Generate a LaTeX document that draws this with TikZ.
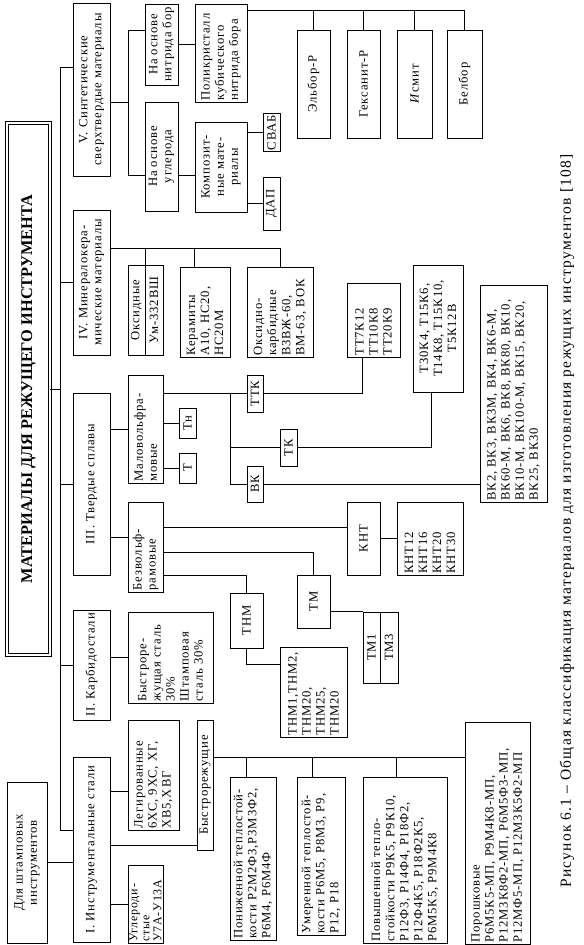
\documentclass[tikz,border=0pt]{standalone}
\usepackage{fontspec}
\setmainfont{Liberation Serif}
\newfontfamily\boxfont{Liberation Serif}[LetterSpace=7]
\newfontfamily\capfont{Liberation Serif}[LetterSpace=8]
\usetikzlibrary{calc}
\newcommand{\fsz}{\boxfont\fontsize{9}{10}\selectfont}
\newcommand{\ttlsz}{\fontsize{11.6}{14}\selectfont\bfseries}
\newcommand{\capsz}{\capfont\fontsize{11}{13}\selectfont}
\tikzset{
  box/.style={draw,rotate=90,inner sep=1pt,font=\fsz,align=center},
  lbox/.style={draw,rotate=90,inner ysep=1pt,inner xsep=1pt,font=\fsz,align=left},
  bw/.style={minimum width=#1*0.025cm},
  bh/.style={minimum height=#1*0.025cm},
  tw/.style={text width=#1*0.025cm-2pt}
}

\begin{document}
\begin{tikzpicture}[x=0.025cm,y=-0.025cm,line width=0.6pt]
\useasboundingbox (0,0) rectangle (584,945);
\node[box,bw=532,bh=43,double,double distance=1.2pt,font=\ttlsz] (title) at (28.5,389) {МАТЕРИАЛЫ ДЛЯ РЕЖУЩЕГО ИНСТРУМЕНТА};
\node[box,bw=161,bh=40] (stamp) at (27,862.5) {Для штамповых\\инструментов};
\node[box,bw=173,bh=37] (v) at (91.5,89.5) {V. Синтетические\\сверхтвердые материалы};
\node[box,bw=145,bh=37] (iv) at (91.5,282.5) {IV. Минералокера-\\мические материалы};
\node[box,bw=182,bh=37] (iii) at (91.5,484) {III. Твердые сплавы};
\node[box,bw=110,bh=37] (ii) at (91.5,665) {II. Карбидостали};
\node[box,bw=185,bh=37] (i) at (91.5,849.5) {I. Инструментальные стали};
\node[box,bw=81,bh=33] (nitr) at (161.5,44.5) {На основе\\нитрида бор};
\node[box,bw=109,bh=33] (carb) at (161.5,156.5) {На основе\\углерода};
\node[lbox,tw=98,bh=52] (polyk) at (221,53) {Поликристалл\\кубического\\нитрида бора};
\node[box,bw=90,bh=52] (komp) at (221,167) {Композит-\\ные мате-\\риалы};
\node[box,bw=35,bh=17] (svab) at (271.5,132.5) {СВАБ};
\node[box,bw=53,bh=17] (dap) at (271.5,203.5) {ДАП};
\node[box,bw=108,bh=33] (elbor) at (313.5,84) {Эльбор-Р};
\node[box,bw=108,bh=33] (geks) at (363.5,84) {Гексанит-Р};
\node[box,bw=108,bh=35] (ismit) at (414.5,84) {\textit{И}смит};
\node[box,bw=108,bh=35] (belbor) at (464.5,84) {Белбор};
\node[box,bw=90,bh=17] (oks1) at (136.5,310) {Оксидные};
\node[box,bw=90,bh=18] (oks2) at (154,310) {Ум-332ВШ};
\node[lbox,tw=90,bh=50] (keram) at (205,312) {Керамиты\\А10, НС20,\\НС20М};
\node[lbox,tw=90,bh=66] (okskarb) at (280,312) {Оксидно-\\карбидные\\В3ВЖ-60,\\ВМ-63, ВОК};
\node[lbox,tw=108,bh=35] (malo) at (145.5,429) {Маловольфра-\\мовые};
\node[lbox,tw=90,bh=35] (bezv) at (145.5,547) {Безвольф-\\рамовые};
\node[box,bw=30,bh=17] (tn) at (187.5,423) {Тн};
\node[box,bw=30,bh=17] (t) at (187.5,468) {Т};
\node[box,bw=37,bh=16] (ttk) at (255,393.5) {ТТК};
\node[box,bw=37,bh=17] (tk) at (288.5,447.5) {ТК};
\node[box,bw=36,bh=16] (vk) at (255,484) {ВК};
\node[lbox,tw=74,bh=53] (tt) at (373.5,320) {ТТ7К12\\ТТ10К8\\ТТ20К9};
\node[box,bw=127,bh=50] (t30) at (438,328.5) {Т30К4, Т15К6,\\Т14К8, Т15К10,\\Т5К12В};
\node[lbox,tw=217,bh=67] (vk2) at (513.5,393.5) {ВК2, ВК3, ВК3М, ВК4, ВК6-М,\\ВК60-М, ВК6, ВК8, ВК80, ВК10,\\ВК10-М, ВК100-М, ВК15, ВК20,\\ВК25, ВК30};
\node[box,bw=73,bh=33] (knt) at (363.5,538.5) {КНТ};
\node[lbox,tw=73,bh=66] (knt12) at (430,538.5) {КНТ12\\КНТ16\\КНТ20\\КНТ30};
\node[box,bw=53,bh=33] (tm) at (313.5,601.5) {ТМ};
\node[box,bw=71,bh=17] (tm1) at (371.5,647.5) {ТМ1};
\node[box,bw=71,bh=18] (tm3) at (389,647.5) {ТМ3};
\node[box,bw=55,bh=33] (tnm) at (246.5,620.5) {ТНМ};
\node[lbox,tw=90,bh=67] (tnm1) at (313.5,692) {ТНМ1,ТНМ2,\\ТНМ20,\\ТНМ25,\\ТНМ20};
\node[lbox,tw=91,bh=85] (bystr) at (170.5,657.5) {Быстроре-\\жущая сталь\\30\%\\Штамповая\\сталь 30\%};
\node[lbox,tw=110,bh=51] (leg) at (153.5,775) {Легированные\\6ХС, 9ХС, ХГ,\\ХВ5,ХВГ};
\node[lbox,tw=78,bh=35,font=\boxfont\fontsize{8.5}{8.6}\selectfont] (uglerod) at (145.5,904) {Углероди-\\стые\\У7А-У13А};
\node[box,bw=130,bh=16] (bystrrez) at (205,785) {Быстрорежущие};
\node[lbox,tw=163,bh=46] (ponizh) at (253,858.5) {Пониженной теплостой-\\кости Р2М2Ф3,Р3М3Ф2,\\Р6М4, Р6М4Ф};
\node[lbox,tw=158,bh=48] (umer) at (321,856) {Умеренной теплостой-\\кости Р6М5, Р8М3, Р9,\\Р12, Р18};
\node[lbox,tw=166,bh=84] (povysh) at (405,860) {Повышенной тепло-\\стойкости Р9К5, Р9К10,\\Р12Ф3, Р14Ф4, Р18Ф2,\\Р12Ф4К5, Р18Ф2К5,\\Р6М5К5, Р9М4К8};
\node[lbox,tw=222,bh=65] (porosh) at (497.5,833) {Порошковые\\Р6М5К5-МП, Р9М4К8-МП,\\Р12М3К8Ф2-МП, Р6М5Ф3-МП,\\Р12МФ5-МП, Р12М3К5Ф2-МП};
\node[rotate=90,font=\capsz] (cap) at (567,521) {Рисунок 6.1 – Общая классификация материалов для изготовления режущих инструментов [108]};
\coordinate (spT) at (60,67);
\coordinate (spB) at (60,830);
\draw (spT) -- (spB);
\draw (title.south) -- (title.south -| spT);
\draw (spT) -- (spT -| v.north);
\draw (iv.north) -- (iv.north -| spT);
\draw (iii.north) -- (iii.north -| spT);
\draw (ii.north) -- (ii.north -| spT);
\draw (spB) -- (spB -| i.north);
\draw (stamp.south) -- (stamp.south -| i.north);
\coordinate (vj) at (128,102);
\coordinate (vjT) at (128,30);
\coordinate (vjB) at (128,175);
\draw (vj) -- (vj -| v.south);
\draw (vjT) -- (vjB);
\draw (vjT) -- (vjT -| nitr.north);
\draw (vjB) -- (vjB -| carb.north);
\draw (nitr.south) -- (nitr.south -| polyk.north);
\draw (vjB -| carb.south) -- (vjB -| komp.north);
\draw (svab.north) -- (svab.north -| komp.south);
\draw (dap.north) -- (dap.north -| komp.south);
\coordinate (pb) at (464.5,10);
\draw (pb -| polyk.south) -- (pb) -- (belbor.east);
\foreach \n in {elbor,geks,ismit}
  \draw (\n.east) -- (\n.east |- pb);
\coordinate (ivb) at (280,248);
\draw (ivb -| iv.south) -- (ivb) -- (okskarb.east);
\draw (oks1.south east) -- (oks1.south east |- ivb);
\coordinate (kd) at ($(keram.north east)!.3!(keram.south east)$);
\draw (kd) -- (kd |- ivb);
\coordinate (bz) at ($(bezv.north west)!.6!(bezv.north east)$);
\draw (malo.north) -- (malo.north -| iii.south);
\draw (bz) -- (bz -| iii.south);
\draw (tn.north) -- (tn.north -| malo.south);
\draw (t.north) -- (t.north -| malo.south);
\draw (ttk.north) -- (ttk.north -| malo.south);
\coordinate (kj) at (230,393.5);
\draw (kj) |- (vk.north);
\draw (tk.north) -- (tk.north -| kj);
\coordinate (ttd) at ($(tt.north west)!.3!(tt.south west)$);
\draw (ttk.south) -| (ttd);
\coordinate (t30d) at ($(t30.north west)!.38!(t30.south west)$);
\draw (tk.south) -| (t30d);
\draw (vk.south) -- (vk.south -| vk2.north);
\coordinate (b1) at (163,527);
\coordinate (b2) at (163,552);
\coordinate (b3) at (163,575);
\draw (b1) -- (b1 -| knt.north);
\draw (b2) -| (tm.east);
\draw (b3) -| (tnm.east);
\draw (knt.south) -- (knt.south -| knt12.north);
\draw (tm1.north east) -- (tm1.north east -| tm.south);
\coordinate (tnmd) at ($(tnm1.north west)!.8!(tnm1.north east)$);
\draw (tnm.west) |- (tnmd);
\draw (bystr.north) -- (bystr.north -| ii.south);
\coordinate (lgd) at ($(leg.north west)!.35!(leg.north east)$);
\draw (lgd) -- (lgd -| i.south);
\draw (uglerod.north) -- (uglerod.north -| i.south);
\coordinate (brd) at ($(bystrrez.north west)!.04!(bystrrez.north east)$);
\draw (brd) -- (brd -| i.south);
\coordinate (rb) at (465,757);
\draw (rb -| bystrrez.south) -- (rb);
\draw ($(ponizh.north east)!.37!(ponizh.south east)$) |- (rb);
\draw ($(umer.north east)!.33!(umer.south east)$) |- (rb);
\draw ($(povysh.north east)!.4!(povysh.south east)$) |- (rb);
\end{tikzpicture}
\end{document}
